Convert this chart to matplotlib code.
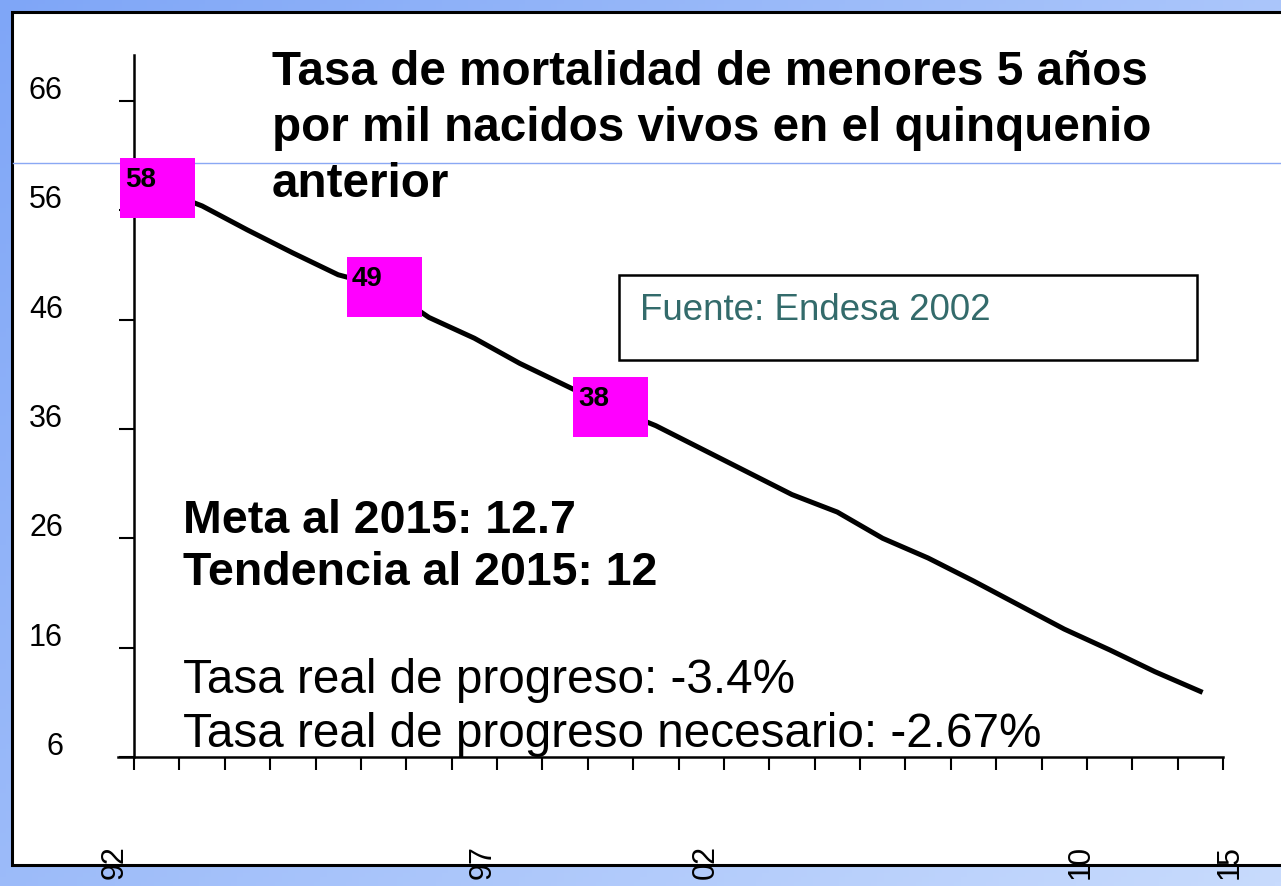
import matplotlib
matplotlib.use("Agg")
import matplotlib.pyplot as plt
import numpy as np
from matplotlib.patches import Rectangle
from matplotlib.lines import Line2D

plt.rcParams['font.family'] = ['Liberation Sans', 'DejaVu Sans']

# mortality under 5, per year 1992..2015
years = list(range(1992, 2016))
tasa = [58, 56.4, 54.2, 52.1, 50.1, 49, 46.2, 44.3, 42.0, 40.0, 38, 36.3,
        34.2, 32.1, 30.0, 28.4, 26.0, 24.2, 22.1, 19.9, 17.7, 15.8, 13.8, 12.0]
marked_years = [1992, 1997, 2002]
y_ticks = [6, 16, 26, 36, 46, 56, 66]
x_labels = ["92", "97", "02", "10", "15"]
x_label_pos = [-0.92, 7.19, 12.09, 20.37, 23.64]   # where the labels sit (category units)

W, H = 1281, 886
fig = plt.figure(figsize=(W / 100, H / 100), dpi=100)

def fx(px):
    return px / W

def fy(py):
    return 1 - py / H

# blue gradient frame
bg = fig.add_axes([0, 0, 1, 1], zorder=-10)
gx, gy = np.meshgrid(np.linspace(0, 1, 200), np.linspace(0, 1, 200))
t = (gx * 0.6 + gy * 0.4)
c0 = np.array([0x7f, 0xa6, 0xf7]) / 255
c1 = np.array([0xc8, 0xdb, 0xfd]) / 255
img = c0[None, None, :] * (1 - t[..., None]) + c1[None, None, :] * t[..., None]
bg.imshow(img, aspect='auto', extent=[0, 1, 0, 1], origin='upper')
bg.set_xlim(0, 1)
bg.set_ylim(0, 1)
bg.axis('off')

# white panel
fig.patches.append(Rectangle((fx(12), fy(865)), fx(1300 - 12), (865 - 12) / H,
                             transform=fig.transFigure, facecolor='white',
                             edgecolor='black', linewidth=2.2, zorder=-5))
fig.lines.append(Line2D([fx(13), 1], [fy(163), fy(163)], transform=fig.transFigure,
                        color='#8aa8f4', linewidth=1.0, zorder=-4))

# main axes
ax = fig.add_axes([fx(134), fy(757), fx(1223 - 134), (757 - 55) / H])
ax.patch.set_alpha(0)
x = np.arange(len(years))
ax.plot(x, tasa, color='black', linewidth=3.6, zorder=2)

mk = [years.index(y) for y in marked_years]
rect = [(-37.5, -30), (37.5, -30), (37.5, 30), (-37.5, 30), (-37.5, -30)]
ax.plot(x[mk], [tasa[i] for i in mk], linestyle='none', marker=rect, markersize=54,
        markerfacecolor='#ff00ff', markeredgewidth=0, zorder=3, clip_on=False)
for i in mk:
    ax.annotate(f"{tasa[i]:.0f}", xy=(x[i], tasa[i]), xytext=(-32, 1),
                textcoords='offset pixels', ha='left', va='baseline',
                fontsize=20, fontweight='bold', zorder=4)

ax.set_xlim(-0.5, len(years) - 0.5)
ax.set_ylim(6, 70.2)
for s in ['top', 'right']:
    ax.spines[s].set_visible(False)
ax.spines['left'].set_linewidth(1.8)
ax.spines['bottom'].set_linewidth(1.8)
ax.spines['bottom'].set_bounds(-0.85, len(years) - 0.5)

ax.set_yticks(y_ticks)
ax.set_yticklabels([])
ax.set_xticks(np.arange(-0.5, len(years)))
ax.set_xticklabels([])
ax.tick_params(axis='y', direction='out', length=10.8, width=1.5)
ax.tick_params(axis='x', direction='out', length=9.4, width=1.5)

for v in y_ticks:
    ax.annotate(str(v), xy=(0, v), xycoords=('axes fraction', 'data'),
                xytext=(-71, 10), textcoords='offset pixels',
                ha='right', va='center', fontsize=22)

for lab, p in zip(x_labels, x_label_pos):
    ax.annotate(lab, xy=(p, 0), xycoords=('data', 'axes fraction'),
                xytext=(0, -122), textcoords='offset pixels', rotation=90,
                ha='center', va='bottom', fontsize=22, annotation_clip=False)

# title
title_lines = ["Tasa de mortalidad de menores 5 años",
               "por mil nacidos vivos en el quinquenio",
               "anterior"]
for k, line in enumerate(title_lines):
    fig.text(fx(272), fy(85 + 56 * k), line, fontsize=34.3, fontweight='bold',
             ha='left', va='baseline')

# source box
fig.patches.append(Rectangle((fx(619), fy(360)), fx(1197 - 619), (360 - 275) / H,
                             transform=fig.transFigure, facecolor='white',
                             edgecolor='black', linewidth=1.8, zorder=1))
fig.text(fx(640), fy(320), "Fuente: Endesa 2002", fontsize=26.5, color='#336b6b',
         ha='left', va='baseline', zorder=2)

fig.text(fx(183), fy(533), "Meta al 2015: 12.7", fontsize=33.5, fontweight='bold',
         ha='left', va='baseline')
fig.text(fx(183), fy(585), "Tendencia al 2015: 12", fontsize=33.5, fontweight='bold',
         ha='left', va='baseline')
fig.text(fx(183), fy(693), "Tasa real de progreso: -3.4%", fontsize=34.3,
         ha='left', va='baseline')
fig.text(fx(183), fy(747), "Tasa real de progreso necesario: -2.67%", fontsize=34.3,
         ha='left', va='baseline')

fig.savefig("out.png", dpi=100)
